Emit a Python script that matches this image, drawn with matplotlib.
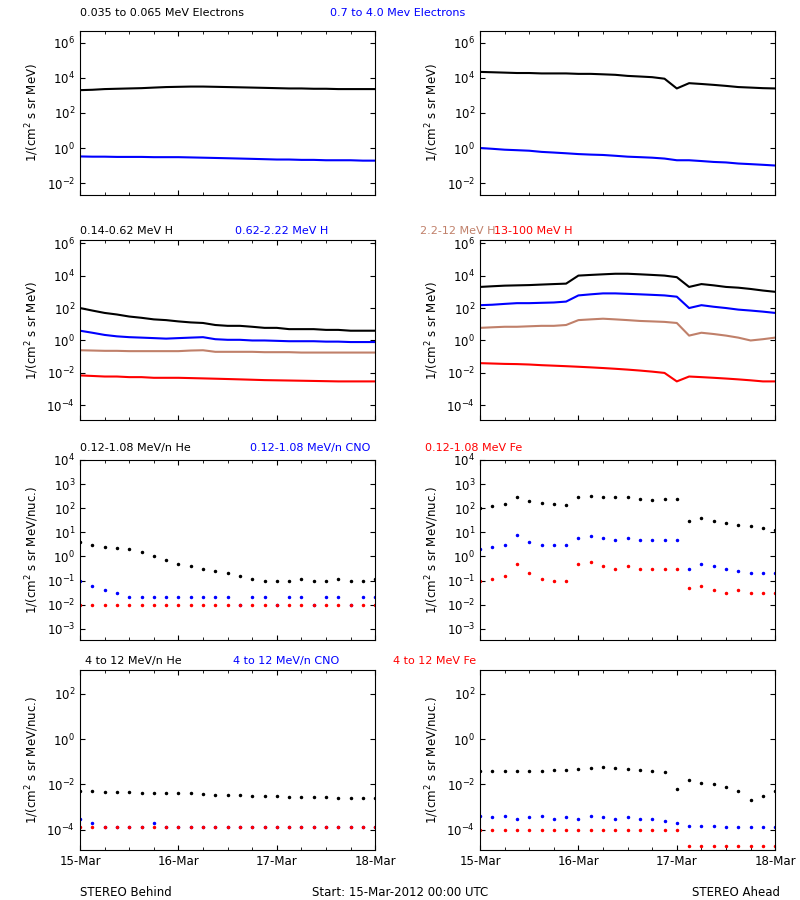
import numpy as np
import matplotlib
matplotlib.use('Agg')
import matplotlib.pyplot as plt
from matplotlib.ticker import NullFormatter, MultipleLocator

# time in days since 15-Mar-2012 00:00, every 3 hours
t = np.arange(25) * 0.125

# row 1: electrons
e_lo_B = [2e3, 2.1e3, 2.3e3, 2.4e3, 2.5e3, 2.6e3, 2.8e3, 3e3, 3.1e3, 3.2e3, 3.2e3, 3.1e3, 3e3, 2.9e3, 2.8e3, 2.7e3, 2.6e3, 2.5e3, 2.5e3, 2.4e3, 2.4e3, 2.3e3, 2.3e3, 2.3e3, 2.3e3]
e_hi_B = [0.33, 0.32, 0.32, 0.31, 0.31, 0.31, 0.3, 0.3, 0.3, 0.29, 0.28, 0.27, 0.26, 0.25, 0.24, 0.23, 0.22, 0.22, 0.21, 0.21, 0.2, 0.2, 0.2, 0.19, 0.19]
e_lo_A = [2.2e4, 2.1e4, 2e4, 1.9e4, 1.9e4, 1.8e4, 1.8e4, 1.8e4, 1.7e4, 1.7e4, 1.6e4, 1.5e4, 1.3e4, 1.2e4, 1.1e4, 9e3, 2.5e3, 5e3, 4.5e3, 4e3, 3.5e3, 3e3, 2.8e3, 2.6e3, 2.5e3]
e_hi_A = [1.0, 0.9, 0.8, 0.75, 0.7, 0.6, 0.55, 0.5, 0.45, 0.42, 0.4, 0.36, 0.32, 0.3, 0.28, 0.25, 0.2, 0.2, 0.18, 0.16, 0.15, 0.13, 0.12, 0.11, 0.1]

# row 2: protons
h1_B = [100, 70, 50, 40, 30, 25, 20, 18, 15, 13, 12, 9, 8, 8, 7, 6, 6, 5, 5, 5, 4.5, 4.5, 4, 4, 4]
h2_B = [4, 3, 2.2, 1.8, 1.6, 1.5, 1.4, 1.3, 1.4, 1.5, 1.6, 1.2, 1.1, 1.1, 1.0, 1.0, 0.95, 0.9, 0.9, 0.9, 0.85, 0.85, 0.8, 0.8, 0.8]
h3_B = [0.25, 0.24, 0.23, 0.23, 0.22, 0.22, 0.22, 0.22, 0.22, 0.24, 0.25, 0.2, 0.2, 0.2, 0.2, 0.19, 0.19, 0.19, 0.18, 0.18, 0.18, 0.18, 0.18, 0.18, 0.18]
h4_B = [7e-3, 6.5e-3, 6e-3, 6e-3, 5.5e-3, 5.5e-3, 5e-3, 5e-3, 5e-3, 4.8e-3, 4.6e-3, 4.4e-3, 4.2e-3, 4e-3, 3.8e-3, 3.6e-3, 3.5e-3, 3.4e-3, 3.3e-3, 3.2e-3, 3.1e-3, 3e-3, 3e-3, 3e-3, 3e-3]
h1_A = [2e3, 2.2e3, 2.4e3, 2.5e3, 2.6e3, 2.8e3, 3e3, 3.2e3, 1e4, 1.1e4, 1.2e4, 1.3e4, 1.3e4, 1.2e4, 1.1e4, 1e4, 8e3, 2e3, 3e3, 2.5e3, 2e3, 1.8e3, 1.5e3, 1.2e3, 1e3]
h2_A = [150, 160, 180, 200, 200, 210, 220, 250, 600, 700, 800, 800, 750, 700, 650, 600, 500, 100, 150, 120, 100, 80, 70, 60, 50]
h3_A = [6, 6.5, 7, 7, 7.5, 8, 8, 9, 18, 20, 22, 20, 18, 16, 15, 14, 12, 2, 3, 2.5, 2, 1.5, 1.0, 1.2, 1.5]
h4_A = [0.04, 0.038, 0.036, 0.035, 0.033, 0.03, 0.028, 0.026, 0.024, 0.022, 0.02, 0.018, 0.016, 0.014, 0.012, 0.01, 3e-3, 6e-3, 5.5e-3, 5e-3, 4.5e-3, 4e-3, 3.5e-3, 3e-3, 3e-3]

# row 3: 0.12-1.08 MeV/n heavy ions
he1_B = [4, 3, 2.5, 2.2, 2, 1.5, 1.0, 0.7, 0.5, 0.4, 0.3, 0.25, 0.2, 0.15, 0.12, 0.1, 0.1, 0.1, 0.12, 0.1, 0.1, 0.12, 0.1, 0.1, 0.12]
cno1_B = [0.1, 0.06, 0.04, 0.03, 0.02, 0.02, 0.02, 0.02, 0.02, 0.02, 0.02, 0.02, 0.02, 0.01, 0.02, 0.02, 0.01, 0.02, 0.02, 0.01, 0.02, 0.02, 0.01, 0.02, 0.02]
fe1_B = [0.01] * 25
he1_A = [100, 120, 150, 300, 200, 160, 150, 140, 300, 320, 300, 280, 300, 250, 220, 250, 250, 30, 40, 30, 25, 20, 18, 15, 12]
cno1_A = [2, 2.5, 3, 8, 4, 3, 3, 3, 6, 7, 6, 5, 6, 5, 5, 5, 5, 0.3, 0.5, 0.4, 0.3, 0.25, 0.2, 0.2, 0.2]
fe1_A = [0.1, 0.12, 0.15, 0.5, 0.2, 0.12, 0.1, 0.1, 0.5, 0.6, 0.4, 0.3, 0.4, 0.3, 0.3, 0.3, 0.3, 0.05, 0.06, 0.04, 0.03, 0.04, 0.03, 0.03, 0.03]

# row 4: 4-12 MeV/n heavy ions
he2_B = [5e-3, 5e-3, 4.8e-3, 4.6e-3, 4.5e-3, 4.4e-3, 4.3e-3, 4.2e-3, 4.2e-3, 4e-3, 3.8e-3, 3.6e-3, 3.5e-3, 3.3e-3, 3.2e-3, 3e-3, 3e-3, 2.9e-3, 2.8e-3, 2.8e-3, 2.7e-3, 2.6e-3, 2.6e-3, 2.5e-3, 2.5e-3]
cno2_B = [3e-4, 2e-4, 1.3e-4, 1.3e-4, 1.3e-4, 1.3e-4, 2e-4, 1.3e-4, 1.3e-4, 1.3e-4, 1.3e-4, 1.3e-4, 1.3e-4, 1.3e-4, 1.3e-4, 1.3e-4, 1.3e-4, 1.3e-4, 1.3e-4, 1.3e-4, 1.3e-4, 1.3e-4, 1.3e-4, 1.3e-4, 1.3e-4]
fe2_B = [1.3e-4] * 25
he2_A = [0.04, 0.04, 0.04, 0.04, 0.04, 0.04, 0.042, 0.045, 0.05, 0.055, 0.06, 0.055, 0.05, 0.045, 0.04, 0.035, 0.006, 0.015, 0.012, 0.01, 0.008, 0.005, 0.002, 0.003, 0.005]
cno2_A = [4e-4, 3.5e-4, 4e-4, 3e-4, 3.5e-4, 4e-4, 3e-4, 3.5e-4, 3e-4, 4e-4, 3.5e-4, 3e-4, 3.5e-4, 3e-4, 3e-4, 2.5e-4, 2e-4, 1.5e-4, 1.5e-4, 1.5e-4, 1.3e-4, 1.3e-4, 1.3e-4, 1.3e-4, 1.3e-4]
fe2_A = [1e-4] * 17 + [2e-5] * 8

day_labels = ['15-Mar', '16-Mar', '17-Mar', '18-Mar']

BROWN = '#c0806a'
FS = 8.5
TFS = 8
rows = [
    dict(B=[(e_lo_B, 'k'), (e_hi_B, 'b')], A=[(e_lo_A, 'k'), (e_hi_A, 'b')],
         ylim=(2e-3, 5e6), yl='1/(cm$^2$ s sr MeV)', dots=False,
         ticks=[1e-2, 1, 1e2, 1e4, 1e6], box=(0.783, 0.183)),
    dict(B=[(h1_B, 'k'), (h2_B, 'b'), (h3_B, BROWN), (h4_B, 'r')],
         A=[(h1_A, 'k'), (h2_A, 'b'), (h3_A, BROWN), (h4_A, 'r')],
         ylim=(1.2e-5, 1.5e6), yl='1/(cm$^2$ s sr MeV)', dots=False,
         ticks=[1e-4, 1e-2, 1, 1e2, 1e4, 1e6], box=(0.533, 0.2)),
    dict(B=[(he1_B, 'k'), (cno1_B, 'b'), (fe1_B, 'r')], A=[(he1_A, 'k'), (cno1_A, 'b'), (fe1_A, 'r')],
         ylim=(3.5e-4, 1e4), yl='1/(cm$^2$ s sr MeV/nuc.)', dots=True,
         ticks=[1e-3, 1e-2, 1e-1, 1, 10, 1e2, 1e3, 1e4], box=(0.289, 0.2)),
    dict(B=[(he2_B, 'k'), (cno2_B, 'b'), (fe2_B, 'r')], A=[(he2_A, 'k'), (cno2_A, 'b'), (fe2_A, 'r')],
         ylim=(1.3e-5, 1.1e3), yl='1/(cm$^2$ s sr MeV/nuc.)', dots=True,
         ticks=[1e-4, 1e-2, 1, 1e2], box=(0.0556, 0.2)),
]

titles = [
    [(0.1, 0.982, '0.035 to 0.065 MeV Electrons', 'k'), (0.4125, 0.982, '0.7 to 4.0 Mev Electrons', 'b')],
    [(0.1, 0.740, '0.14-0.62 MeV H', 'k'), (0.294, 0.740, '0.62-2.22 MeV H', 'b'),
     (0.525, 0.740, '2.2-12 MeV H', BROWN), (0.618, 0.740, '13-100 MeV H', 'r')],
    [(0.1, 0.499, '0.12-1.08 MeV/n He', 'k'), (0.3125, 0.499, '0.12-1.08 MeV/n CNO', 'b'),
     (0.531, 0.499, '0.12-1.08 MeV Fe', 'r')],
    [(0.106, 0.262, '4 to 12 MeV/n He', 'k'), (0.291, 0.262, '4 to 12 MeV/n CNO', 'b'),
     (0.491, 0.262, '4 to 12 MeV Fe', 'r')],
]

fig = plt.figure(figsize=(8, 9), dpi=100)
for i, r in enumerate(rows):
    for x0, key in [(0.1, 'B'), (0.6, 'A')]:
        ax = fig.add_axes([x0, r['box'][0], 0.369, r['box'][1]])
        for vals, c in r[key]:
            if r['dots']:
                ax.plot(t, vals, '.', color=c, ms=3)
            else:
                ax.plot(t, vals, '-', color=c, lw=1.5)
        ax.set_yscale('log')
        ax.set_ylim(*r['ylim'])
        ax.set_xlim(0, 3)
        ax.set_yticks(r['ticks'])
        ax.yaxis.set_minor_formatter(NullFormatter())
        ax.set_xticks(range(4))
        ax.xaxis.set_minor_locator(MultipleLocator(0.25))
        ax.tick_params(which='both', direction='in', top=True, right=True, labelsize=FS)
        ax.set_ylabel(r['yl'], fontsize=FS)
        if i == 3:
            ax.set_xticklabels(day_labels)
        else:
            ax.set_xticklabels([])
    for x, y, s, c in titles[i]:
        fig.text(x, y, s, color=c, fontsize=TFS)

fig.text(0.1, 0.005, 'STEREO Behind', fontsize=FS)
fig.text(0.5, 0.005, 'Start: 15-Mar-2012 00:00 UTC', fontsize=FS, ha='center')
fig.text(0.975, 0.005, 'STEREO Ahead', fontsize=FS, ha='right')
fig.savefig('out.png', dpi=100)
